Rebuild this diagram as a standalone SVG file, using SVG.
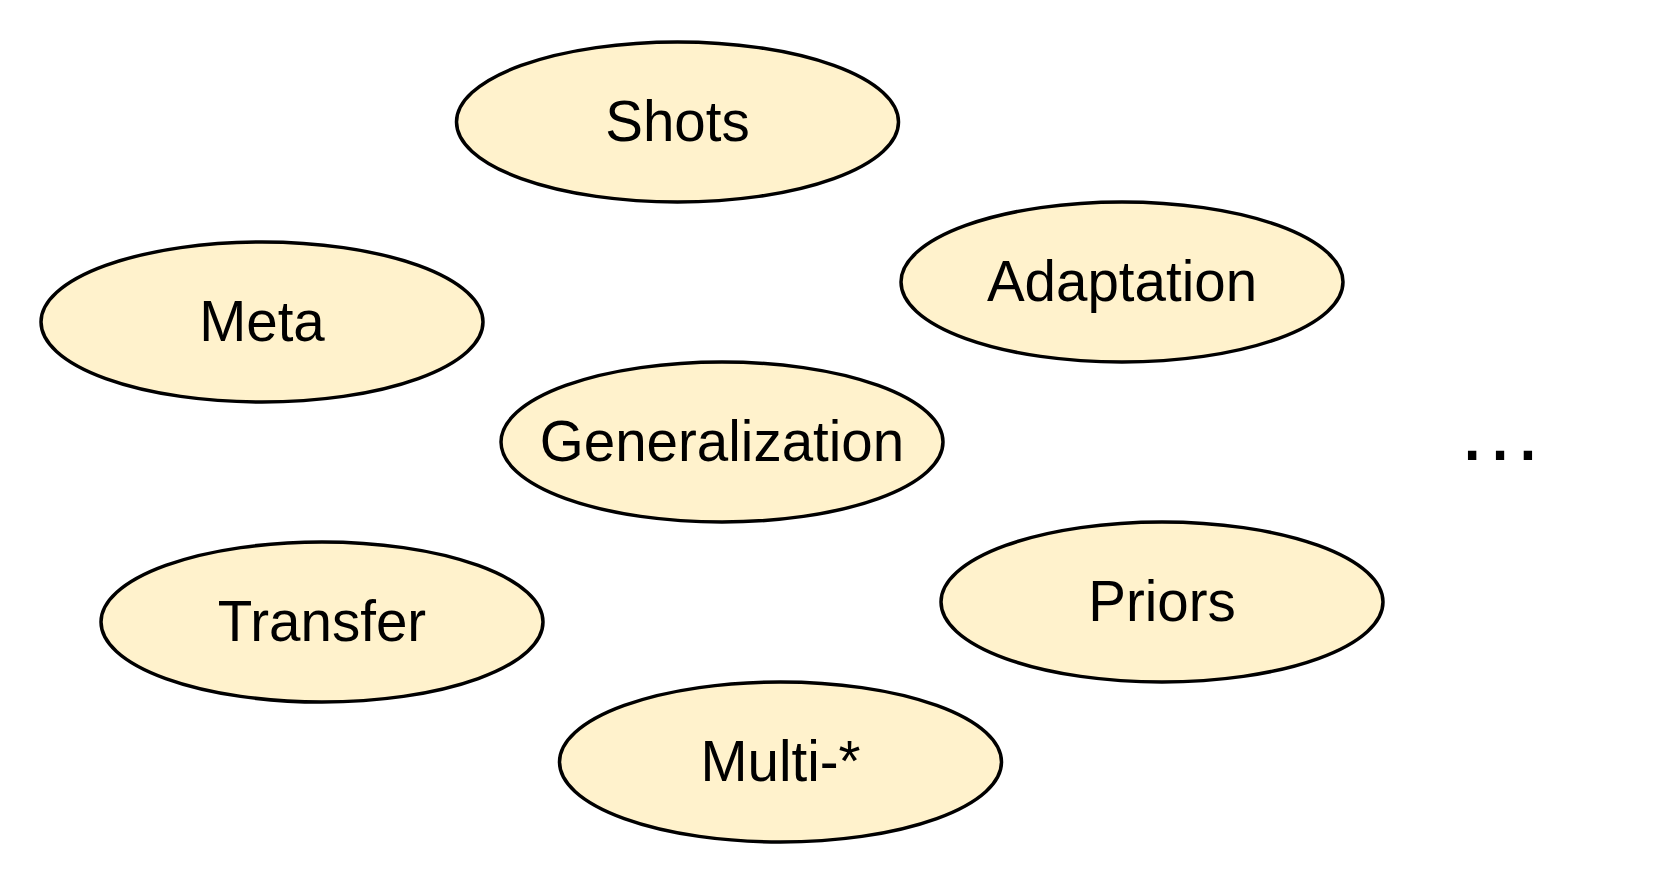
<svg xmlns="http://www.w3.org/2000/svg" width="1664" height="884" viewBox="0 0 1664 884">
<style>
.n ellipse{fill:#fff2cc;stroke:#000;stroke-width:3.5}
.n text{font-family:"Liberation Sans",Arial,sans-serif;font-size:56.5px;fill:#000;text-anchor:middle}
</style>
<rect width="1664" height="884" fill="#fff"/>
<g id="connectors"/>
<g id="shots" class="n"><ellipse cx="677.5" cy="122" rx="221" ry="80"/><text x="677.5" y="141">Shots</text></g>
<g id="meta" class="n"><ellipse cx="262" cy="322" rx="221" ry="80"/><text x="262" y="341">Meta</text></g>
<g id="adaptation" class="n"><ellipse cx="1122" cy="282" rx="221" ry="80"/><text x="1122" y="301">Adaptation</text></g>
<g id="generalization" class="n"><ellipse cx="722" cy="442" rx="221" ry="80"/><text x="722" y="461">Generalization</text></g>
<g id="transfer" class="n"><ellipse cx="322" cy="622" rx="221" ry="80"/><text x="322" y="641">Transfer</text></g>
<g id="priors" class="n"><ellipse cx="1162" cy="602" rx="221" ry="80"/><text x="1162" y="621">Priors</text></g>
<g id="multi" class="n"><ellipse cx="780.5" cy="762" rx="221" ry="80"/><text x="780.5" y="781">Multi-*</text></g>
<g id="more"><text x="1500" y="460" font-family="Liberation Sans,Arial,sans-serif" font-size="88" text-anchor="middle" fill="#000">…</text></g>
</svg>
